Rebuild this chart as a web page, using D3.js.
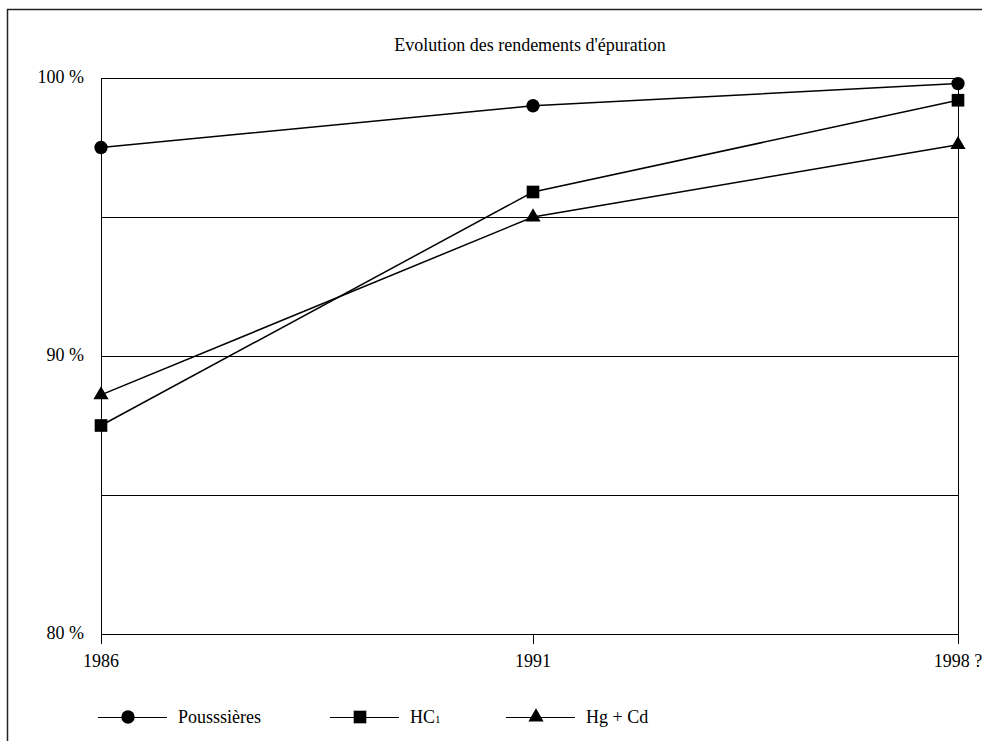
<!DOCTYPE html>
<html>
<head>
<meta charset="utf-8">
<script src="https://cdn.jsdelivr.net/npm/d3@7"></script>
<style>
  html, body { margin: 0; padding: 0; background: #fff; }
  svg { display: block; }
</style>
</head>
<body>
<svg id="chart" width="982" height="741"></svg>
<script>
// Rendement d'épuration (%) par polluant
const years = ["1986", "1991", "1998 ?"];
const poussieres = [97.5, 99.0, 99.8];
const hcl = [87.5, 95.9, 99.2];
const hgcd = [88.6, 95.0, 97.6];
const yTicks = [80, 85, 90, 95, 100];
const yTickLabels = ["80 %", "", "90 %", "", "100 %"];

const FONT = "'Liberation Serif', 'Times New Roman', 'DejaVu Serif', serif";
const FS = 18;

const series = [
  { name: "Pousssières", sub: "", values: poussieres, symbol: d3.symbolCircle, size: 140 },
  { name: "HC", sub: "1", values: hcl, symbol: d3.symbolSquare, size: 160 },
  { name: "Hg + Cd", sub: "", values: hgcd, symbol: d3.symbolTriangle, size: 100 }
];

const svg = d3.select("#chart").attr("font-family", FONT);

// outer frame (top and left edges)
svg.append("path")
  .attr("d", "M7.5,741 V9.5 H982")
  .attr("fill", "none").attr("stroke", "#222").attr("stroke-width", 1.5);

// category positions along the x axis
const x = d3.scaleOrdinal().domain(years).range([101, 533, 958]);
const y = d3.scaleLinear().domain([80, 100]).range([634, 78]);
const xMin = x(years[0]), xMax = x(years[years.length - 1]);

// title
svg.append("text")
  .attr("x", 530).attr("y", 51)
  .attr("text-anchor", "middle")
  .attr("font-family", FONT)
  .attr("font-size", FS)
  .text("Evolution des rendements d'épuration");

// horizontal grid lines
svg.append("g").selectAll("line").data(yTicks).join("line")
  .attr("x1", xMin).attr("x2", xMax)
  .attr("y1", d => Math.round(y(d)) + 0.5).attr("y2", d => Math.round(y(d)) + 0.5)
  .attr("stroke", "#000").attr("stroke-width", 1);

// y labels
svg.append("g").selectAll("text").data(yTicks).join("text")
  .attr("x", 84).attr("y", d => y(d))
  .attr("dy", "0.3em")
  .attr("text-anchor", "end")
  .attr("font-family", FONT)
  .attr("font-size", FS)
  .text((d, i) => yTickLabels[i]);

// vertical axis lines at first and last category, tick at the middle
[years[0], years[2]].forEach(yr => {
  svg.append("line")
    .attr("x1", x(yr) + 0.5).attr("x2", x(yr) + 0.5)
    .attr("y1", y(100)).attr("y2", y(80) + 10)
    .attr("stroke", "#000");
});
svg.append("line")
  .attr("x1", x(years[1]) + 0.5).attr("x2", x(years[1]) + 0.5)
  .attr("y1", y(80)).attr("y2", y(80) + 10)
  .attr("stroke", "#000");

// x labels
svg.append("g").selectAll("text").data(years).join("text")
  .attr("x", d => x(d)).attr("y", y(80) + 33)
  .attr("text-anchor", "middle")
  .attr("font-family", FONT)
  .attr("font-size", FS)
  .text(d => d);

// series lines and markers
const line = d3.line().x((d, i) => x(years[i])).y(d => y(d));
series.forEach(s => {
  svg.append("path")
    .datum(s.values)
    .attr("d", line)
    .attr("fill", "none").attr("stroke", "#000").attr("stroke-width", 1.5);
  svg.append("g").selectAll("path").data(s.values).join("path")
    .attr("transform", (d, i) => `translate(${x(years[i])},${y(d)})`)
    .attr("d", d3.symbol().type(s.symbol).size(s.size))
    .attr("fill", "#000");
});

// legend
const legendX = [98, 330, 506];
const legendY = 717;
series.forEach((s, i) => {
  const g = svg.append("g").attr("transform", `translate(${legendX[i]},${legendY})`);
  g.append("line").attr("x1", 0).attr("x2", 69).attr("y1", 0.5).attr("y2", 0.5)
    .attr("stroke", "#000").attr("stroke-width", 1.2);
  g.append("path")
    .attr("transform", "translate(30,0)")
    .attr("d", d3.symbol().type(s.symbol).size(s.size))
    .attr("fill", "#000");
  const t = g.append("text").attr("x", 80).attr("y", 6)
    .attr("font-family", FONT)
    .attr("font-size", FS).text(s.name);
  if (s.sub) {
    t.append("tspan").attr("font-size", 11).text(s.sub);
  }
});
</script>
</body>
</html>
